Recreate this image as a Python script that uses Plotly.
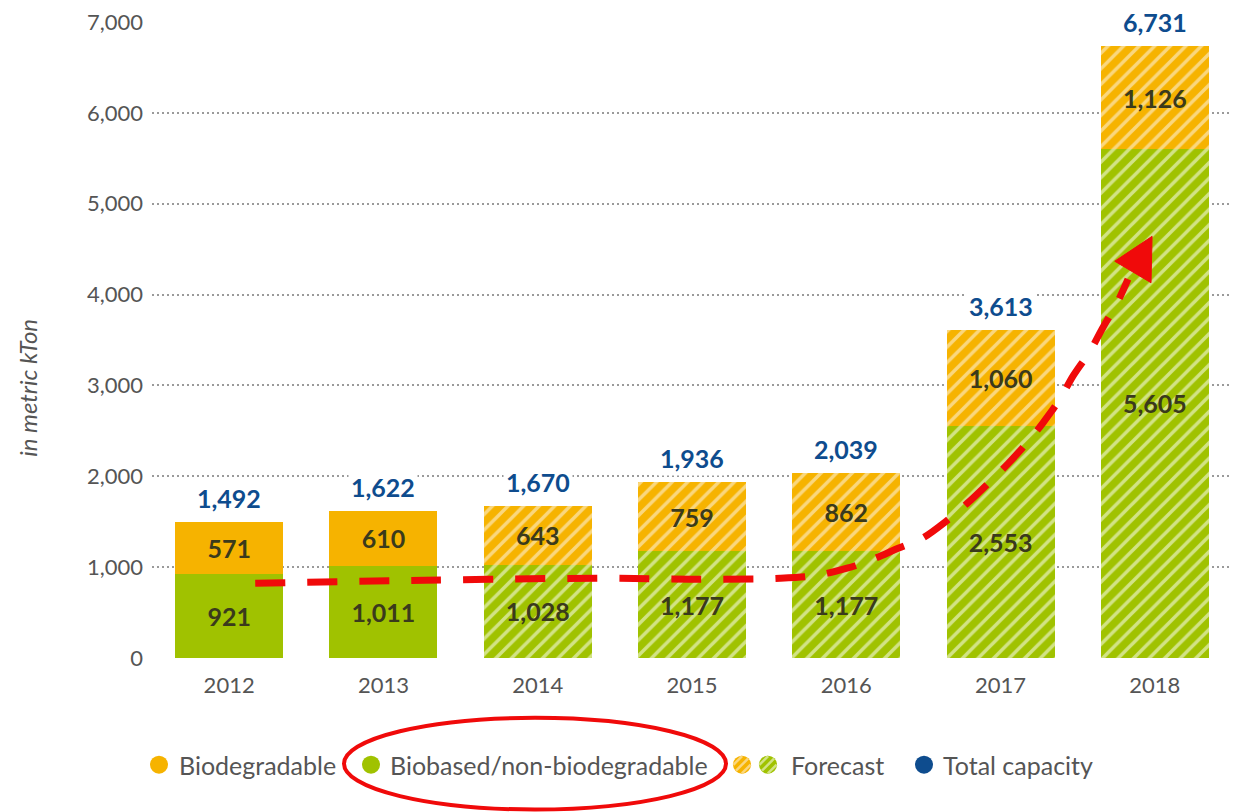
import plotly.graph_objects as go
import math

# ---------------- data ----------------
years = ["2012", "2013", "2014", "2015", "2016", "2017", "2018"]
biobased = [921, 1011, 1028, 1177, 1177, 2553, 5605]
biodegradable = [571, 610, 643, 759, 862, 1060, 1126]
totals = [1492, 1622, 1670, 1936, 2039, 3613, 6731]
forecast = [False, False, True, True, True, True, True]
y_ticks = [0, 1000, 2000, 3000, 4000, 5000, 6000, 7000]
y_ticklabels = ["0", "1,000", "2,000", "3,000", "4,000", "5,000", "6,000", "7,000"]

# hand-drawn red trend arrow (category index, value)
trend_x = [0.169, 1.270, 2.404, 3.052, 3.571, 3.811, 4.005, 4.154, 4.336, 4.491,
           4.653, 4.783, 4.919, 5.049, 5.172, 5.275, 5.386, 5.470, 5.580, 5.658,
           5.761, 5.826]
trend_y = [823, 856, 878, 867, 878, 911, 988, 1075, 1207, 1317,
           1514, 1701, 1920, 2140, 2370, 2589, 2853, 3105, 3379, 3621,
           3928, 4169]
head_x = [5.740, 5.982, 5.975, 5.740]
head_y = [4367, 4641, 4130, 4367]

# ---------------- style ----------------
ORANGE = "#F6B300"
ORANGE_L = "#FAD77E"
GREEN = "#A0C200"
GREEN_L = "#D2E385"
BLUE = "#0E4C8E"
DARK = "#3A3A1C"
GRAY = "#555555"
RED = "#F00A0A"
FONT = "Lato"

W, H = 1240, 812
L, R, T, B = 152, 8, 20, 154
PW, PH = W - L - R, H - T - B

def px_x(px):
    return (px - L) / PW

def px_y(py):
    return (H - B - py) / PH

fig = go.Figure()

def pattern(main, light):
    return dict(
        shape=["/" if f else "" for f in forecast],
        fillmode="replace",
        bgcolor=main,
        fgcolor=light,
        size=11,
        solidity=0.32,
    )

x_idx = list(range(len(years)))

fig.add_trace(go.Bar(
    x=x_idx, y=biobased, name="Biobased/non-biodegradable",
    marker=dict(color=GREEN, line=dict(width=0), pattern=pattern(GREEN, GREEN_L)),
    text=[f"{v:,}" for v in biobased], textposition="inside",
    insidetextanchor="middle", constraintext="none",
    textfont=dict(family=FONT, size=25, color=DARK, weight="bold"),
    hoverinfo="skip",
))
fig.add_trace(go.Bar(
    x=x_idx, y=biodegradable, name="Biodegradable",
    marker=dict(color=ORANGE, line=dict(width=0), pattern=pattern(ORANGE, ORANGE_L)),
    text=[f"{v:,}" for v in biodegradable], textposition="inside",
    insidetextanchor="middle", constraintext="none",
    textfont=dict(family=FONT, size=25, color=DARK, weight="bold"),
    hoverinfo="skip",
))

# red trend line + arrow head
fig.add_trace(go.Scatter(
    x=trend_x, y=trend_y, mode="lines", line_shape="spline",
    line=dict(color=RED, width=7, dash="30px,22px"), hoverinfo="skip",
))
fig.add_trace(go.Scatter(
    x=head_x, y=head_y, mode="lines", fill="toself", fillcolor=RED,
    line=dict(color=RED, width=1), hoverinfo="skip",
))

# total labels
for i, t in enumerate(totals):
    fig.add_annotation(
        x=i, y=t, xref="x", yref="y", text=f"{t:,}", showarrow=False,
        yanchor="middle", yshift=24, bgcolor="white", borderpad=2,
        font=dict(family=FONT, size=25, color=BLUE, weight="bold"),
    )

# y axis title
fig.add_annotation(
    x=px_x(28), y=px_y(387), xref="paper", yref="paper", text="in metric kTon",
    showarrow=False, textangle=-90, xanchor="center", yanchor="middle",
    font=dict(family=FONT, size=24, color=GRAY, style="italic"),
)

# ---------------- custom legend ----------------
LY = 765
rad = 9
shapes = []

def circle(cx, color):
    shapes.append(dict(
        type="circle", xref="paper", yref="paper",
        xsizemode="pixel", ysizemode="pixel",
        xanchor=px_x(cx), yanchor=px_y(LY),
        x0=-rad, x1=rad, y0=-rad, y1=rad,
        fillcolor=color, line=dict(width=0),
    ))

def hatched_circle(cx, color, light):
    circle(cx, color)
    for d in (-6, 0, 6):
        half = math.sqrt(max(rad * rad - d * d, 0)) - 0.5
        ox, oy = d / math.sqrt(2), -d / math.sqrt(2)
        dx, dy = half / math.sqrt(2), half / math.sqrt(2)
        shapes.append(dict(
            type="line", xref="paper", yref="paper",
            xsizemode="pixel", ysizemode="pixel",
            xanchor=px_x(cx), yanchor=px_y(LY),
            x0=ox - dx, x1=ox + dx, y0=oy - dy, y1=oy + dy,
            line=dict(color=light, width=2.5),
        ))

circle(159, ORANGE)
circle(371, GREEN)
hatched_circle(742, ORANGE, ORANGE_L)
hatched_circle(768, GREEN, GREEN_L)
circle(924, BLUE)

legend_items = [(177, "Biodegradable"), (388, "Biobased/non-biodegradable"),
                (789, "Forecast"), (941, "Total capacity")]
for lx, txt in legend_items:
    fig.add_annotation(
        x=px_x(lx), y=px_y(LY), xref="paper", yref="paper", text=txt,
        showarrow=False, xanchor="left", yanchor="middle",
        font=dict(family=FONT, size=25, color=GRAY),
    )

# red ellipse around legend item
shapes.append(dict(
    type="circle", xref="paper", yref="paper",
    x0=px_x(344), x1=px_x(726), y0=px_y(718), y1=px_y(810),
    line=dict(color=RED, width=4), fillcolor="rgba(0,0,0,0)",
))

fig.update_layout(
    width=W, height=H,
    margin=dict(l=L, r=R, t=T, b=B),
    barmode="stack", bargap=0.30,
    plot_bgcolor="white", paper_bgcolor="white",
    showlegend=False,
    shapes=shapes,
    xaxis=dict(
        tickmode="array", tickvals=x_idx, ticktext=years,
        range=[-0.5, 6.5], showgrid=False, zeroline=False, showline=False,
        tickfont=dict(family=FONT, size=22, color=GRAY), ticks="",
        ticklabelstandoff=12,
    ),
    yaxis=dict(
        range=[0, 7000], tickmode="array", tickvals=y_ticks, ticktext=y_ticklabels,
        showgrid=True, gridcolor="#9A9A9A", gridwidth=1.5, griddash="2px,3px",
        zeroline=False, showline=False, ticks="",
        tickfont=dict(family=FONT, size=22, color=GRAY),
        ticklabelstandoff=8,
    ),
)

fig.write_html(
    "out.html",
    config={"displayModeBar": False},
    post_script="document.body.style.margin='0';document.body.style.overflow='hidden';",
)
